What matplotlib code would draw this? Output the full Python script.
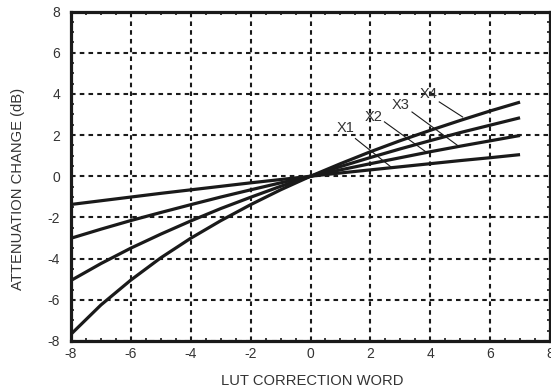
import matplotlib
matplotlib.use("Agg")
import matplotlib.pyplot as plt
from matplotlib.ticker import MultipleLocator

plt.rcParams['font.family'] = ['Liberation Sans', 'DejaVu Sans']

# LUT correction word (x) and attenuation change in dB for each curve
lut_word = [-8, -7, -6, -5, -4, -3, -2, -1, 0, 1, 2, 3, 4, 5, 6, 7]
atten_x1 = [-1.37, -1.19, -1.01, -0.83, -0.66, -0.49, -0.32, -0.16, 0.0,
            0.16, 0.31, 0.46, 0.61, 0.76, 0.90, 1.05]
atten_x2 = [-3.01, -2.57, -2.15, -1.76, -1.38, -1.01, -0.66, -0.32, 0.0,
            0.31, 0.61, 0.90, 1.19, 1.46, 1.72, 1.98]
atten_x3 = [-5.06, -4.24, -3.49, -2.81, -2.17, -1.57, -1.02, -0.49, 0.0,
            0.47, 0.91, 1.33, 1.73, 2.12, 2.48, 2.84]
atten_x4 = [-7.67, -6.25, -5.04, -3.96, -3.01, -2.16, -1.38, -0.66, 0.0,
            0.61, 1.19, 1.73, 2.23, 2.71, 3.17, 3.60]

curve_names = ["X1", "X2", "X3", "X4"]
curves = [atten_x1, atten_x2, atten_x3, atten_x4]

# label text centres and leader lines (start -> end) in data units
label_xy = [(1.17, 2.32), (2.11, 2.88), (3.02, 3.45), (3.93, 3.97)]
leader_start = [(1.50, 1.83), (2.47, 2.64), (3.39, 3.12), (4.30, 3.61)]
leader_end = [(2.69, 0.45), (3.86, 1.18), (4.91, 1.50), (5.08, 2.88)]

ink = '#1a1a1a'
text_col = '#333333'

fig = plt.figure(figsize=(5.51, 3.91), dpi=100)
ax = fig.add_axes([71 / 551, 50 / 391, 479 / 551, 329.5 / 391])

ax.set_xlim(-8, 8)
ax.set_ylim(-8, 8)
ax.xaxis.set_major_locator(MultipleLocator(2))
ax.yaxis.set_major_locator(MultipleLocator(2))
ax.xaxis.set_minor_locator(MultipleLocator(0.5))
ax.yaxis.set_minor_locator(MultipleLocator(0.5))

ax.grid(True, which='major', color=ink, linewidth=1.5,
        linestyle=(0, (2.2, 2.0)), zorder=1)
ax.set_axisbelow(True)

for ys in curves:
    ax.plot(lut_word, ys, color=ink, linewidth=2.3,
            solid_capstyle='butt', solid_joinstyle='round', zorder=3)

for name, (tx, ty), (sx, sy), (ex, ey) in zip(curve_names, label_xy,
                                               leader_start, leader_end):
    ax.plot([sx, ex], [sy, ey], color=ink, linewidth=0.8, zorder=3)
    ax.text(tx, ty, name, fontsize=10.5, color=text_col,
            ha='center', va='center', zorder=4)

for sp in ax.spines.values():
    sp.set_linewidth(2.3)
    sp.set_color(ink)

ax.tick_params(which='both', direction='in', top=True, right=True,
               colors=ink, labelcolor=text_col, labelsize=10)
ax.tick_params(which='major', length=0)
ax.tick_params(which='minor', length=2.4, width=1.2)
ax.tick_params(axis='x', which='major', pad=4)
ax.tick_params(axis='y', which='major', pad=8)

ax.set_xticks(range(-8, 9, 2))
ax.set_yticks(range(-8, 9, 2))
ax.set_xticklabels([str(v) for v in range(-8, 9, 2)])
ax.set_yticklabels([str(v) for v in range(-8, 9, 2)])

ax.set_xlabel("LUT CORRECTION WORD", fontsize=10.6, color=text_col, va='center')
ax.set_ylabel("ATTENUATION CHANGE (dB)", fontsize=10.6, color=text_col, va='center')
ax.xaxis.set_label_coords(0.504, -0.121)
ax.yaxis.set_label_coords(-0.1106, 0.463)

fig.savefig("out.png", dpi=100)
